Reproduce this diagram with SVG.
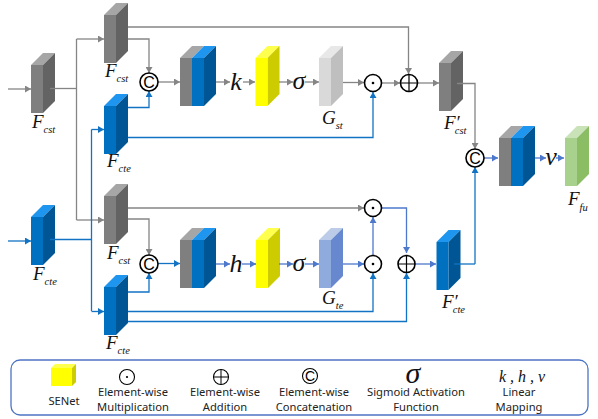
<svg xmlns="http://www.w3.org/2000/svg" width="598" height="419" viewBox="0 0 598 419">
<style>
.F{font-family:"Liberation Serif",serif;font-style:italic;font-size:19px;fill:#111}
.s{font-size:10.500px}
.m{font-family:"Liberation Serif",serif;font-style:italic;font-size:26px;fill:#111;text-anchor:middle}
.l{font-family:"Noto Sans","Liberation Sans",sans-serif;font-size:11.200px;fill:#222;text-anchor:middle}
.c{font-family:"Liberation Sans",sans-serif;font-size:16px;fill:#000;text-anchor:middle}
.o{fill:#fff;stroke:#000;stroke-width:1.600}
.t{fill:none;stroke:#000;stroke-width:1.100}
.g,.b,.p{fill:none;stroke-width:1.300}
.g{stroke:#858585;marker-end:url(#ag)}
.b{stroke:#1273c4;marker-end:url(#ab)}
.p{stroke:#4d78cc;marker-end:url(#ap)}
.n{marker-end:none}
</style>
<defs>
<marker id="ag" markerUnits="userSpaceOnUse" markerWidth="7" markerHeight="7" refX="6" refY="3.500" orient="auto"><path d="M0 0L6 3.500L0 7z" fill="#858585"/></marker>
<marker id="ab" markerUnits="userSpaceOnUse" markerWidth="7" markerHeight="7" refX="6" refY="3.500" orient="auto"><path d="M0 0L6 3.500L0 7z" fill="#1273c4"/></marker>
<marker id="ap" markerUnits="userSpaceOnUse" markerWidth="7" markerHeight="7" refX="6" refY="3.500" orient="auto"><path d="M0 0L6 3.500L0 7z" fill="#4d78cc"/></marker>
<g id="bg"><path d="M0 0L12 -12H24L12 0z" fill="#a6a6a6"/><path d="M12 0L24 -12V36L12 48z" fill="#636363"/><rect width="12" height="48" fill="#7f7f7f"/></g>
<g id="bb"><path d="M0 0L12 -12H24L12 0z" fill="#1e96f0"/><path d="M12 0L24 -12V36L12 48z" fill="#005594"/><rect width="12" height="48" fill="#0070c0"/></g>
<g id="by"><path d="M0 0L12 -12H24L12 0z" fill="#ffff4d"/><path d="M12 0L24 -12V36L12 48z" fill="#cccc00"/><rect width="12" height="48" fill="#ffff00"/></g>
<g id="bd"><path d="M0 0L12 -12H24L12 0z" fill="#a6a6a6"/><path d="M12 0L24 -12H36L24 0z" fill="#1e96f0"/><path d="M24 0L36 -12V36L24 48z" fill="#005594"/><rect width="12" height="48" fill="#7f7f7f"/><rect x="12" width="12" height="48" fill="#0070c0"/></g>
</defs>

<g id="n-fcst-in"><use href="#bg" x="31" y="65"/><text class="F" x="32" y="128">F<tspan class="s" dy="5">cst</tspan></text></g>
<g id="n-fcte-in"><use href="#bb" x="31" y="217"/><text class="F" x="33" y="280">F<tspan class="s" dy="5">cte</tspan></text></g>
<g id="n-fcst-1"><use href="#bg" x="104" y="15"/><text class="F" x="105" y="77">F<tspan class="s" dy="5">cst</tspan></text></g>
<g id="n-fcte-1"><use href="#bb" x="104" y="106"/><text class="F" x="107" y="167">F<tspan class="s" dy="5">cte</tspan></text></g>
<g id="n-fcst-2"><use href="#bg" x="104" y="196"/><text class="F" x="107" y="259">F<tspan class="s" dy="5">cst</tspan></text></g>
<g id="n-fcte-2"><use href="#bb" x="104" y="287"/><text class="F" x="106" y="349">F<tspan class="s" dy="5">cte</tspan></text></g>
<g id="n-concat-1"><use href="#bd" x="180" y="58"/></g>
<g id="n-concat-2"><use href="#bd" x="180" y="240"/></g>
<g id="n-senet-1"><use href="#by" x="255.500" y="58"/></g>
<g id="n-senet-2"><use href="#by" x="256" y="240"/></g>
<g id="n-gst"><path d="M319 58L331 46H343L331 58z" fill="#e8e8e8"/><path d="M331 58L343 46V94L331 106z" fill="#bfbfbf"/><rect x="319" y="58" width="12" height="48" fill="#d9d9d9"/><text class="F" x="322" y="124">G<tspan class="s" dy="5">st</tspan></text></g>
<g id="n-gte"><path d="M319 240L331 228H343L331 240z" fill="#bccbe8"/><path d="M331 240L343 228V276L331 288z" fill="#6787cf"/><rect x="319" y="240" width="12" height="48" fill="#8faadc"/><text class="F" x="322" y="304">G<tspan class="s" dy="5">te</tspan></text></g>
<g id="n-fcst-out"><use href="#bg" x="439" y="63"/><text class="F" x="444" y="129">F′<tspan class="s" dx="-5" dy="5">cst</tspan></text></g>
<g id="n-fcte-out"><use href="#bb" x="436.500" y="242"/><text class="F" x="442" y="308">F′<tspan class="s" dx="-5" dy="5">cte</tspan></text></g>
<g id="n-concat-3"><use href="#bd" x="499" y="138"/></g>
<g id="n-ffu"><path d="M565 138L577 126H589L577 138z" fill="#c9e2b8"/><path d="M577 138L589 126V174L577 186z" fill="#8bbd65"/><rect x="565" y="138" width="12" height="48" fill="#a9d18e"/><text class="F" x="568" y="205">F<tspan class="s" dy="6">fu</tspan></text></g>

<g id="connectors">
<path class="g" d="M8 89H31"/>
<path class="g n" d="M50 88.500H76.500"/>
<path class="g n" d="M76.500 220V39"/>
<path class="g" d="M76.500 39H104"/>
<path class="g" d="M76.500 220H104"/>
<path class="b" d="M8 241H31"/>
<path class="b n" d="M50 239.500H91.500"/>
<path class="b n" d="M91.500 311V129.500"/>
<path class="b" d="M91.500 129.500H104"/>
<path class="b" d="M91.500 311.500H104"/>
<path class="g" d="M128 27H408.500V74"/>
<path class="g" d="M128 39H149V73"/>
<path class="b" d="M128 107.500H149V91"/>
<path class="b" d="M128 137.500H373V92"/>
<path class="g" d="M158 82H180"/>
<path class="g" d="M216 82H230"/>
<path class="g" d="M243 82H255"/>
<path class="g" d="M279 82H293"/>
<path class="g" d="M305 82H319"/>
<path class="g" d="M343 82.500H364"/>
<path class="g" d="M382 83H400"/>
<path class="g" d="M418 83H439"/>
<path class="g" d="M457 83.500H475V149"/>
<path class="b n" d="M454 264H475"/>
<path class="b" d="M475 264V167"/>
<path class="p" d="M484 158H498"/>
<path class="p" d="M535 158H546"/>
<path class="p" d="M556 158H564"/>
<path class="g" d="M128 208H364"/>
<path class="g" d="M128 219H149V255"/>
<path class="b" d="M158 263.500H180"/>
<path class="b" d="M128 292H149V273"/>
<path class="p" d="M216 264H230"/>
<path class="p" d="M242 264H256"/>
<path class="p" d="M279 264H293"/>
<path class="p" d="M305 264H319"/>
<path class="p" d="M343 264H364"/>
<path class="p" d="M373 255V217"/>
<path class="p" d="M382 208H406.500V253"/>
<path class="b" d="M128 311.500H373V273"/>
<path class="b" d="M128 321.500H406.500V273"/>
<path class="p" d="M415 264H436"/>
</g>

<g id="n-op-c1"><circle class="o" cx="149" cy="82" r="9"/><text class="c" x="149" y="88">C</text></g>
<g id="n-op-c2"><circle class="o" cx="149" cy="264" r="9"/><text class="c" x="149" y="270">C</text></g>
<g id="n-op-c3"><circle class="o" cx="475" cy="158" r="9"/><text class="c" x="475" y="164">C</text></g>
<g id="n-op-m1"><circle class="o" cx="373" cy="83" r="8.500"/><circle cx="373" cy="83" r="1.300"/></g>
<g id="n-op-m2"><circle class="o" cx="373" cy="208" r="8.500"/><circle cx="373" cy="208" r="1.300"/></g>
<g id="n-op-m3"><circle class="o" cx="373" cy="264" r="8.500"/><circle cx="373" cy="264" r="1.300"/></g>
<g id="n-op-a1"><circle class="o" cx="409" cy="83" r="8.500"/><path d="M400.500 83H417.500M409 74.500V91.500" stroke="#000" stroke-width="1.200"/></g>
<g id="n-op-a2"><circle class="o" cx="406.500" cy="264" r="8.500"/><path d="M398 264H415M406.500 255.500V272.500" stroke="#000" stroke-width="1.200"/></g>
<text id="n-k" class="m" x="236" y="90">k</text>
<text id="n-sigma-1" class="m" x="299" y="89">σ</text>
<text id="n-h" class="m" x="236" y="272">h</text>
<text id="n-sigma-2" class="m" x="299" y="271">σ</text>
<text id="n-v" class="m" x="551" y="165">v</text>

<g id="legend">
<rect x="11" y="360" width="577" height="55" rx="9" fill="#fff" stroke="#4d74c4" stroke-width="1.300"/>
<g id="lg-senet"><path d="M51 368L55 364H76L72 368z" fill="#ffff4d"/><path d="M72 368L76 364V382L72 386z" fill="#cccc00"/><rect x="51" y="368" width="21" height="18" fill="#ffff00"/><text class="l" x="64" y="405">SENet</text></g>
<g id="lg-mul"><circle class="t" cx="127" cy="377" r="7.500"/><circle cx="127" cy="377" r="1.100"/><text class="l" x="133" y="396">Element-wise</text><text class="l" x="133" y="411">Multiplication</text></g>
<g id="lg-add"><circle class="t" cx="221" cy="377" r="7.500"/><path d="M213.500 377H228.500M221 369.500V384.500" stroke="#000" stroke-width="1"/><text class="l" x="225" y="396">Element-wise</text><text class="l" x="225" y="411">Addition</text></g>
<g id="lg-con"><circle class="t" cx="310" cy="376" r="7.500"/><text class="c" style="font-size:14px" x="310" y="381">C</text><text class="l" x="314" y="396">Element-wise</text><text class="l" x="314" y="411">Concatenation</text></g>
<g id="lg-sig"><text class="m" style="font-size:30px" x="413" y="383">σ</text><text class="l" x="416" y="396">Sigmoid Activation</text><text class="l" x="416" y="411">Function</text></g>
<g id="lg-map"><text class="m" style="font-size:16px" x="522" y="382">k , h , v</text><text class="l" x="519" y="396">Linear</text><text class="l" x="519" y="411">Mapping</text></g>
</g>
</svg>
